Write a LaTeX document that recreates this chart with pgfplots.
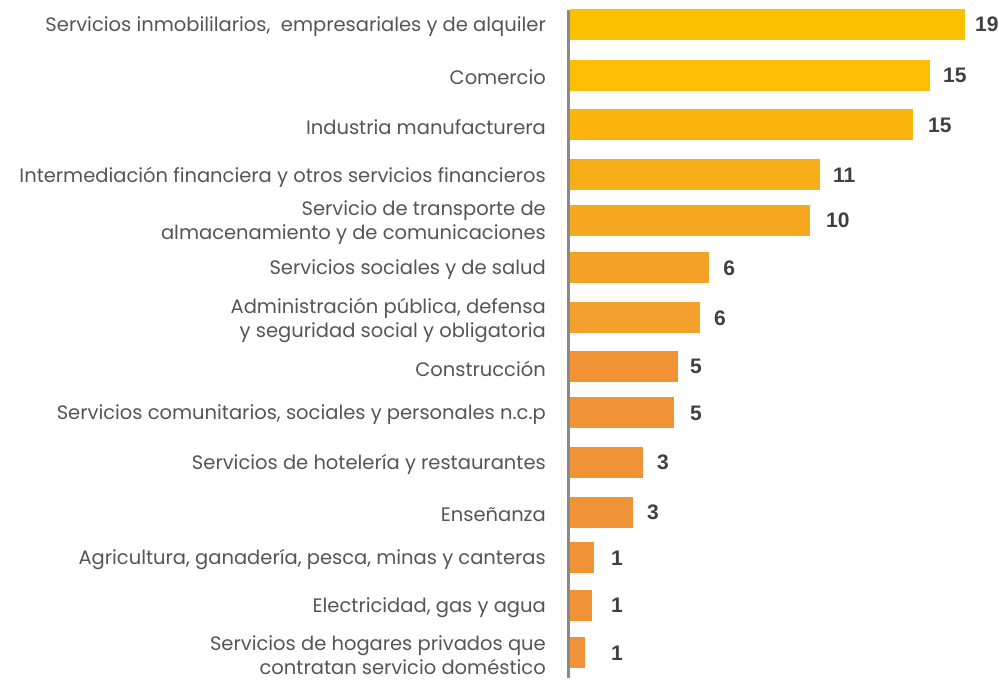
\documentclass[border=0pt]{standalone}
\usepackage{pgfplots}
\usepackage{pgfplotstable}
\pgfplotsset{compat=1.18}
\usepackage{fontspec}
\setmainfont{Poppins}
\newfontfamily\numfont{Liberation Sans}
\definecolor{c1}{HTML}{FBC000}
\definecolor{c2}{HTML}{FBBE02}
\definecolor{c3}{HTML}{F9B50E}
\definecolor{c4}{HTML}{F8AE18}
\definecolor{c5}{HTML}{F6A920}
\definecolor{c6}{HTML}{F4A227}
\definecolor{c7}{HTML}{F3A02D}
\definecolor{c8}{HTML}{F19335}
\definecolor{c9}{HTML}{F09336}
\definecolor{c10}{HTML}{F09336}
\definecolor{c11}{HTML}{F09337}
\definecolor{c12}{HTML}{F09337}
\definecolor{c13}{HTML}{F09337}
\definecolor{c14}{HTML}{F09237}
\definecolor{labgray}{HTML}{555555}
\definecolor{numgray}{HTML}{404040}
\definecolor{axgray}{HTML}{8A8A8A}
\pgfplotstableread{
y     lx     lab
656.5 19.47  19
605.5 17.93  15
556   17.21  15
506   12.64  11
460.5 12.31  10
413   7.36   6
363   6.92   6
314.5 5.77   5
268   5.77   5
218.5 4.18   3
168.5 3.70   3
123   1.97   1
75.5  1.97   1
28    1.97   1
}\labels
\begin{document}
\begin{tikzpicture}
\path[use as bounding box] (0,0) rectangle (999bp,681bp);
\begin{axis}[
  at={(570bp,3bp)}, anchor=south west,
  scale only axis, width=429bp, height=668bp,
  xmin=0, xmax=20.625, ymin=3, ymax=671,
  axis line style={draw=none}, xtick=\empty,
  xbar, bar width=31bp, bar shift=0pt,
  ytick={656.5,605.5,556,506,460.5,413,363,314.5,268,218.5,168.5,123,75.5,28},
  yticklabels={
    {Servicios inmobililarios,\ \ empresariales y de alquiler},
    {Comercio},
    {Industria manufacturera},
    {Intermediación financiera y otros servicios financieros},
    {Servicio de transporte de\\almacenamiento y de comunicaciones},
    {Servicios sociales y de salud},
    {Administración pública, defensa\\y seguridad social y obligatoria},
    {Construcción},
    {Servicios comunitarios, sociales y personales n.c.p},
    {Servicios de hotelería y restaurantes},
    {Enseñanza},
    {Agricultura, ganadería, pesca, minas y canteras},
    {Electricidad, gas y agua},
    {Servicios de hogares privados que\\contratan servicio doméstico}},
  major tick length=0pt, ytick style={draw=none},
  yticklabel style={align=right, font=\fontsize{19.5bp}{24bp}\selectfont, text=labgray, inner sep=0pt, xshift=-24bp, yshift=-2bp},
  clip=false,
]
\addplot[fill=c1, draw=none] coordinates {(18.99,656.5)};
\addplot[fill=c2, draw=none] coordinates {(17.31,605.5)};
\addplot[fill=c3, draw=none] coordinates {(16.49,556)};
\addplot[fill=c4, draw=none] coordinates {(12.02,506)};
\addplot[fill=c5, draw=none] coordinates {(11.54,460.5)};
\addplot[fill=c6, draw=none] coordinates {(6.68,413)};
\addplot[fill=c7, draw=none] coordinates {(6.25,363)};
\addplot[fill=c8, draw=none] coordinates {(5.19,314.5)};
\addplot[fill=c9, draw=none] coordinates {(5.00,268)};
\addplot[fill=c10, draw=none] coordinates {(3.51,218.5)};
\addplot[fill=c11, draw=none] coordinates {(3.03,168.5)};
\addplot[fill=c12, draw=none] coordinates {(1.15,123)};
\addplot[fill=c13, draw=none] coordinates {(1.06,75.5)};
\addplot[fill=c14, draw=none] coordinates {(0.72,28)};
\addplot[draw=none, xbar=false, nodes near coords, point meta=explicit symbolic,
  nodes near coords style={anchor=west, inner sep=0pt, text=numgray, font=\numfont\bfseries\fontsize{21bp}{21bp}\selectfont}]
  table[x=lx, y=y, meta=lab] {\labels};
\draw[axgray, line width=3bp] (axis cs:-0.07,3) -- (axis cs:-0.07,671);
\end{axis}
\end{tikzpicture}
\end{document}
